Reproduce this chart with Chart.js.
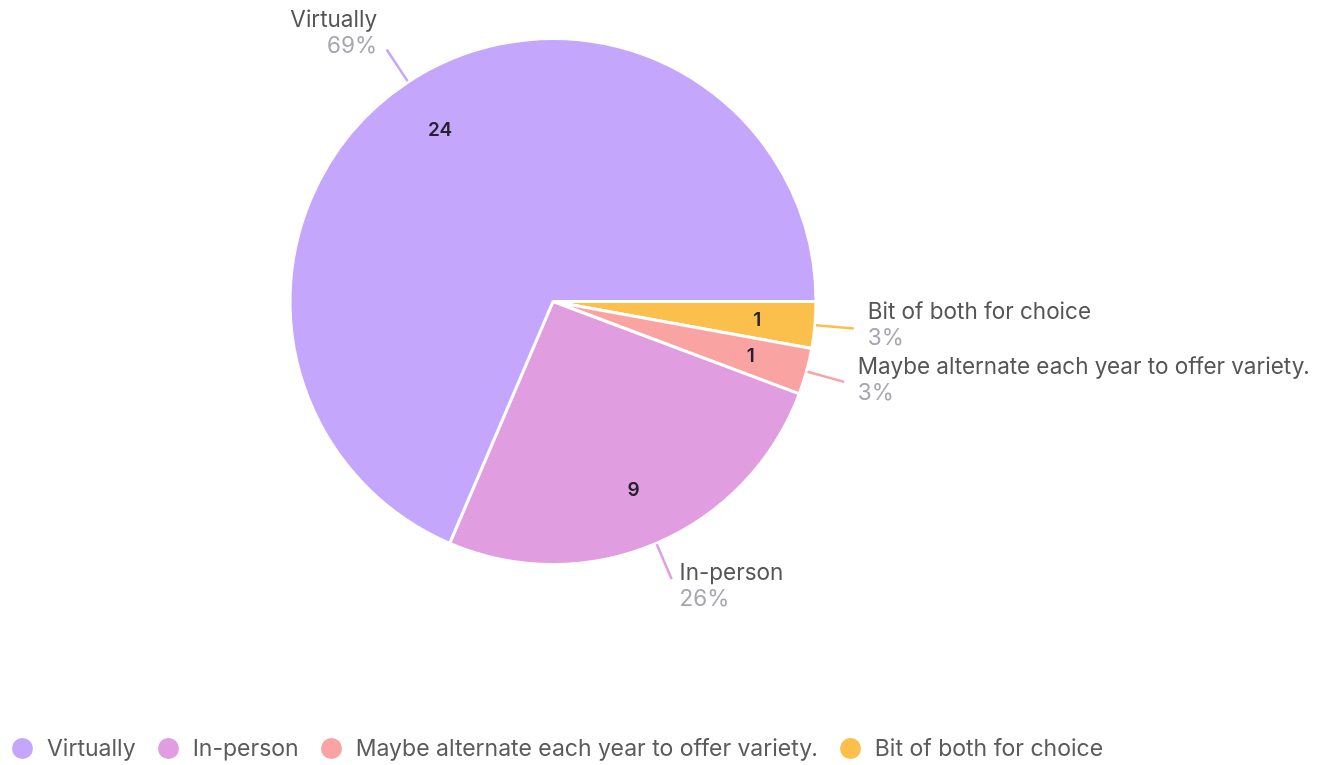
<!DOCTYPE html>
<html>
<head>
<meta charset="utf-8">
<script src="https://cdn.jsdelivr.net/npm/chart.js@4/dist/chart.umd.min.js"></script>
<style>
  html, body { margin: 0; padding: 0; background: #fff; }
  #wrap { position: relative; width: 1332px; height: 765px; }
  #legend { position: absolute; left: 12px; top: 734px; display: flex; align-items: center; font-family: Inter, sans-serif; font-size: 23px; color: #5b5b5b; }
  #legend .item { display: flex; align-items: center; margin-right: 22px; }
  #legend .dot { width: 21px; height: 21px; border-radius: 50%; margin-right: 14px; }
</style>
</head>
<body>
<div id="wrap">
  <canvas id="pie" width="1332" height="765"></canvas>
  <div id="legend"></div>
</div>
<script>
const categories = ['Virtually', 'In-person', 'Maybe alternate each year to offer variety.', 'Bit of both for choice'];
const counts = [24, 9, 1, 1];
const colors = ['#c4a7fc', '#e09ee0', '#f9a3a3', '#fbbf4b'];

const total = counts.reduce((a, b) => a + b, 0);
const percents = counts.map((c) => Math.round(c / total * 100) + '%');

// pie runs clockwise from 3 o'clock, so feed the slices in reverse
const order = categories.map((_, i) => categories.length - 1 - i);

const sliceLabels = {
  id: 'sliceLabels',
  afterDatasetsDraw(chart) {
    const ctx = chart.ctx;
    const meta = chart.getDatasetMeta(0);
    meta.data.forEach((arc, j) => {
      const i = order[j];
      const { x, y, startAngle, endAngle, outerRadius } = arc.getProps(['x', 'y', 'startAngle', 'endAngle', 'outerRadius'], true);
      const mid = (startAngle + endAngle) / 2;
      const cos = Math.cos(mid), sin = Math.sin(mid);

      // count inside the slice
      ctx.save();
      ctx.font = '600 19px Inter, sans-serif';
      ctx.fillStyle = '#26212e';
      ctx.textAlign = 'center';
      ctx.textBaseline = 'middle';
      ctx.fillText(String(counts[i]), x + cos * outerRadius * 0.78, y + sin * outerRadius * 0.78);

      // leader line
      const r1 = outerRadius + 1, r2 = outerRadius + 39;
      const ex = x + cos * r2, ey = y + sin * r2;
      ctx.strokeStyle = colors[i];
      ctx.lineWidth = 2.5;
      ctx.beginPath();
      ctx.moveTo(x + cos * r1, y + sin * r1);
      ctx.lineTo(ex, ey);
      ctx.stroke();

      // name and share
      const right = cos >= 0;
      const tx = ex + (right ? 1 : -1) * (4 + 10 * Math.abs(cos));
      const ty = ey - 18 + 13 * sin;
      ctx.textAlign = right ? 'left' : 'right';
      ctx.font = '22.5px Inter, sans-serif';
      ctx.fillStyle = '#555555';
      ctx.fillText(categories[i], tx, ty);
      ctx.fillStyle = '#a6a6b0';
      ctx.fillText(percents[i], tx, ty + 26);
      ctx.restore();
    });
  }
};

new Chart(document.getElementById('pie'), {
  type: 'pie',
  data: {
    labels: order.map((i) => categories[i]),
    datasets: [{
      data: order.map((i) => counts[i]),
      backgroundColor: order.map((i) => colors[i]),
      borderColor: '#ffffff',
      borderWidth: 3
    }]
  },
  options: {
    responsive: false,
    animation: false,
    rotation: 90,
    radius: 263,
    layout: { padding: { top: 0, left: 0, right: 226, bottom: 162 } },
    plugins: { legend: { display: false }, tooltip: { enabled: false } }
  },
  plugins: [sliceLabels]
});

const legend = document.getElementById('legend');
categories.forEach((name, i) => {
  const item = document.createElement('div');
  item.className = 'item';
  const dot = document.createElement('span');
  dot.className = 'dot';
  dot.style.background = colors[i];
  const text = document.createElement('span');
  text.textContent = name;
  item.appendChild(dot);
  item.appendChild(text);
  legend.appendChild(item);
});
</script>
</body>
</html>
